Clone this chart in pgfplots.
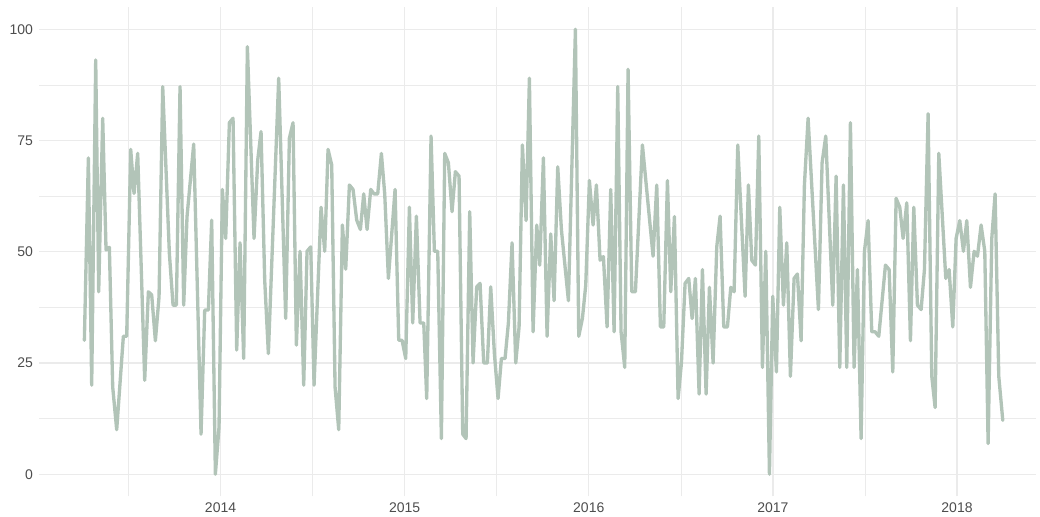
\documentclass[border=0pt]{standalone}
\usepackage{pgfplots}
\pgfplotsset{compat=1.18}
\usepackage{fontspec}
\setmainfont{Liberation Sans}
\definecolor{gridc}{HTML}{EBEBEB}
\definecolor{linec}{HTML}{B2C4B8}
\definecolor{labc}{HTML}{4D4D4D}
\begin{document}
\begin{tikzpicture}
\begin{axis}[
  scale only axis, width=747.75pt, height=367.1pt,
  xmin=2013.014, xmax=2018.429, ymin=-5, ymax=105,
  axis line style={draw=none},
  tick style={draw=none}, major tick length=0pt, minor tick length=0pt,
  xtick={2014,2015,2016,2017,2018},
  xticklabels={2014,2015,2016,2017,2018},
  ytick={0,25,50,75,100},
  yticklabels={0,25,50,75,100},
  minor xtick={2013.5,2014.5,2015.5,2016.5,2017.5},
  minor ytick={12.5,37.5,62.5,87.5},
  grid=both,
  major grid style={draw=gridc, line width=0.9pt},
  minor grid style={draw=gridc, line width=0.5pt},
  tick label style={font=\fontsize{10.5}{12}\selectfont, text=labc},
  xticklabel style={yshift=-1.2pt},
  yticklabel style={xshift=-1pt},
]
\addplot[linec, line width=2.5pt, line join=round, line cap=round] coordinates {
(2013.2604,30.1) (2013.2821,71.1) (2013.3002,20.0) (2013.3220,93.1) (2013.3382,41.0)
(2013.3600,80.0) (2013.3781,50.4) (2013.3962,51.0) (2013.4143,19.6) (2013.4360,10.0)
(2013.4722,31.0) (2013.4903,31.0) (2013.5121,73.0) (2013.5302,63.1) (2013.5501,72.1)
(2013.5881,21.1) (2013.6080,41.0) (2013.6261,40.3) (2013.6461,30.0) (2013.6660,39.9)
(2013.6859,87.1) (2013.7221,49.6) (2013.7420,38.0) (2013.7601,38.0) (2013.7800,87.1)
(2013.7999,38.0) (2013.8180,57.9) (2013.8543,74.2) (2013.8941,9.0) (2013.9140,36.9)
(2013.9339,36.9) (2013.9520,57.1) (2013.9719,0) (2013.9918,10.6) (2014.0099,64.0)
(2014.0280,53.0) (2014.0480,79.0) (2014.0679,80.0) (2014.0878,27.9) (2014.1059,52.0)
(2014.1258,26.0) (2014.1457,96.1) (2014.1819,53.0) (2014.2019,70.6) (2014.2200,77.0)
(2014.2399,43.6) (2014.2598,27.1) (2014.3159,89.0) (2014.3539,35.0) (2014.3739,75.5)
(2014.3938,79.0) (2014.4119,29.0) (2014.4318,50.1) (2014.4517,20.0) (2014.4698,50.1)
(2014.4898,51.1) (2014.5079,20.0) (2014.5459,60.0) (2014.5658,50.1) (2014.5839,73.0)
(2014.6038,69.5) (2014.6220,19.6) (2014.6419,10.0) (2014.6618,56.0) (2014.6799,46.1)
(2014.6998,65.0) (2014.7197,64.0) (2014.7396,57.1) (2014.7596,55.0) (2014.7777,63.0)
(2014.7958,55.0) (2014.8157,64.0) (2014.8338,63.0) (2014.8537,63.0) (2014.8736,72.1)
(2014.8917,63.0) (2014.9117,44.0) (2014.9479,64.0) (2014.9678,30.1) (2014.9859,30.1)
(2015.0058,26.0) (2015.0257,60.0) (2015.0438,34.0) (2015.0637,58.0) (2015.0837,34.0)
(2015.1036,34.0) (2015.1198,17.0) (2015.1433,76.0) (2015.1615,50.1) (2015.1796,50.1)
(2015.1995,8.0) (2015.2176,72.1) (2015.2375,70.0) (2015.2574,59.0) (2015.2755,68.0)
(2015.2954,67.0) (2015.3154,9.0) (2015.3335,8.0) (2015.3534,59.0) (2015.3715,25.0)
(2015.3914,42.1) (2015.4095,42.9) (2015.4294,25.0) (2015.4493,25.0) (2015.4674,42.1)
(2015.4874,27.1) (2015.5073,17.0) (2015.5254,26.0) (2015.5453,26.0) (2015.5634,34.0)
(2015.5833,52.0) (2015.6033,25.0) (2015.6214,33.1) (2015.6395,74.0) (2015.6594,57.0)
(2015.6775,89.0) (2015.6974,32.0) (2015.7173,56.0) (2015.7336,47.0) (2015.7536,71.1)
(2015.7735,31.0) (2015.7934,54.0) (2015.8115,39.0) (2015.8314,69.1) (2015.8513,55.0)
(2015.8894,39.0) (2015.9274,100) (2015.9455,31.0) (2015.9654,35.0) (2015.9835,42.5)
(2016.0034,66.0) (2016.0233,56.0) (2016.0414,65.0) (2016.0614,48.1) (2016.0795,48.9)
(2016.0994,33.1) (2016.1193,64.0) (2016.1374,32.0) (2016.1573,87.1) (2016.1754,32.0)
(2016.1953,24.0) (2016.2134,91.0) (2016.2334,41.0) (2016.2533,41.0) (2016.2913,74.0)
(2016.3492,49.0) (2016.3692,65.0) (2016.3891,33.1) (2016.4072,33.1) (2016.4272,66.0)
(2016.4453,41.0) (2016.4652,57.9) (2016.4851,17.0) (2016.5032,25.0) (2016.5231,42.9)
(2016.5430,44.0) (2016.5611,35.0) (2016.5792,44.0) (2016.5992,18.0) (2016.6173,46.0)
(2016.6372,18.0) (2016.6553,42.0) (2016.6752,25.0) (2016.6951,51.1) (2016.7132,58.0)
(2016.7331,33.1) (2016.7531,33.1) (2016.7712,42.0) (2016.7893,41.0) (2016.8092,74.0)
(2016.8490,40.0) (2016.8671,65.0) (2016.8852,48.1) (2016.9052,47.0) (2016.9233,76.0)
(2016.9432,24.0) (2016.9613,50.1) (2016.9812,0) (2016.9992,40.0) (2017.0192,23.0)
(2017.0373,60.0) (2017.0572,38.0) (2017.0753,52.0) (2017.0952,22.0) (2017.1151,44.0)
(2017.1332,45.0) (2017.1531,30.0) (2017.1712,65.0) (2017.1912,80.0) (2017.2473,37.0)
(2017.2672,70.0) (2017.2871,76.0) (2017.3252,38.0) (2017.3433,67.0) (2017.3632,24.0)
(2017.3831,65.0) (2017.4012,24.0) (2017.4211,79.0) (2017.4410,24.0) (2017.4591,46.0)
(2017.4790,8.0) (2017.4972,50.1) (2017.5171,57.0) (2017.5370,32.0) (2017.5551,32.0)
(2017.5750,31.0) (2017.6113,47.0) (2017.6312,46.0) (2017.6511,23.0) (2017.6692,62.0)
(2017.6891,60.0) (2017.7072,53.0) (2017.7271,61.0) (2017.7471,30.0) (2017.7652,60.0)
(2017.7851,38.0) (2017.8050,37.0) (2017.8231,46.0) (2017.8430,81.0) (2017.8629,22.0)
(2017.8810,15.0) (2017.9010,72.1) (2017.9390,44.0) (2017.9571,46.0) (2017.9770,33.1)
(2017.9951,53.0) (2018.0150,57.0) (2018.0349,50.1) (2018.0530,57.0) (2018.0730,42.0)
(2018.0929,50.1) (2018.1110,49.0) (2018.1309,56.0) (2018.1508,50.1) (2018.1689,6.9)
(2018.1888,53.0) (2018.2069,63.0) (2018.2268,22.0) (2018.2486,12.1)
};
\end{axis}
\pgfresetboundingbox
\path[use as bounding box] (-29.25pt,-15.375pt) rectangle (750.75pt,372.35pt);
\end{tikzpicture}
\end{document}
